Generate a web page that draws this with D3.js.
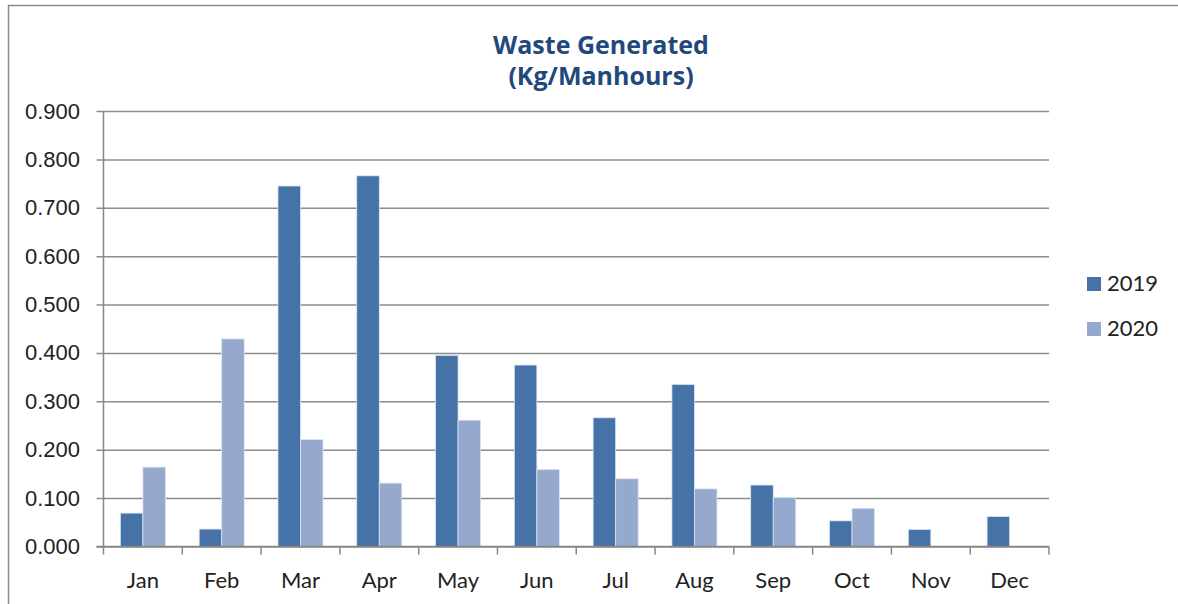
<!DOCTYPE html>
<html>
<head>
<meta charset="utf-8">
<script src="https://cdn.jsdelivr.net/npm/d3@7"></script>
<style>
  body { margin: 0; background: #fff; }
  svg { display: block; font-family: Lato, "Noto Sans", sans-serif; }
</style>
</head>
<body>
<svg id="chart" width="1178" height="604"></svg>
<script>
// chart data
const months = ["Jan", "Feb", "Mar", "Apr", "May", "Jun", "Jul", "Aug", "Sep", "Oct", "Nov", "Dec"];
const series = ["2019", "2020"];
const values2019 = [0.069, 0.036, 0.745, 0.766, 0.395, 0.375, 0.266, 0.335, 0.127, 0.053, 0.035, 0.062];
const values2020 = [0.164, 0.429, 0.221, 0.131, 0.261, 0.159, 0.140, 0.119, 0.101, 0.079, 0, 0];
const yTicks = [0, 0.1, 0.2, 0.3, 0.4, 0.5, 0.6, 0.7, 0.8, 0.9];
const colors = ["#4572A7", "#95A9CF"];

const svg = d3.select("#chart");

// plot area
const plotL = 103.5, plotR = 1049, plotT = 111, plotB = 546.5;

// outer frame
svg.append("rect")
  .attr("x", 8.5).attr("y", 5.5)
  .attr("width", 1180).attr("height", 620)
  .attr("fill", "none")
  .attr("stroke", "#8a8a8a")
  .attr("stroke-width", 1.5);

// title
const title = svg.append("text")
  .attr("text-anchor", "middle")
  .attr("fill", "#1F497D")
  .attr("font-family", "'Open Sans', sans-serif")
  .attr("font-weight", "bold")
  .attr("font-size", 25);
title.append("tspan").attr("x", 601).attr("y", 54).text("Waste Generated");
title.append("tspan").attr("x", 601).attr("y", 85).text("(Kg/Manhours)");

const x = d3.scaleBand()
  .domain(months)
  .range([plotL, plotR])
  .paddingInner(1.5 / 3.5)
  .paddingOuter(0.75 / 3.5);

const xs = d3.scaleBand()
  .domain(series)
  .range([0, x.bandwidth()]);

const y = d3.scaleLinear()
  .domain([0, 0.9])
  .range([plotB, plotT]);

// gridlines + y labels
const yAxis = d3.axisLeft(y)
  .tickValues(yTicks)
  .tickSize(-(plotR - plotL))
  .tickSizeOuter(0)
  .tickPadding(23.5)
  .tickFormat(d3.format(".3f"));

const gy = svg.append("g")
  .attr("transform", `translate(${plotL},0)`)
  .call(yAxis);
gy.select(".domain").remove();
gy.selectAll(".tick line")
  .attr("x1", -7)
  .attr("stroke", "#8c8c8c")
  .attr("stroke-width", 1.5);
gy.selectAll(".tick text")
  .attr("font-size", 22)
  .attr("fill", "#222");

// vertical axis line
svg.append("line")
  .attr("x1", plotL).attr("x2", plotL)
  .attr("y1", plotT).attr("y2", plotB)
  .attr("stroke", "#868686")
  .attr("stroke-width", 1.5);

// bars
const data = months.map((m, i) => ({ month: m, vals: [values2019[i], values2020[i]] }));

const groups = svg.append("g").selectAll("g")
  .data(data)
  .join("g")
  .attr("transform", d => `translate(${x(d.month)},0)`);

groups.selectAll("rect")
  .data(d => d.vals.map((v, j) => ({ key: series[j], v: v, j: j })).filter(e => e.v > 0))
  .join("rect")
  .attr("x", d => xs(d.key))
  .attr("y", d => y(d.v))
  .attr("width", xs.bandwidth())
  .attr("height", d => plotB - y(d.v))
  .attr("fill", d => colors[d.j])
  .attr("stroke", "#dbe3ef")
  .attr("stroke-width", 0.8);

// x axis
const xAxisScale = d3.scaleLinear().domain([0, months.length]).range([plotL, plotR]);
const gx = svg.append("g")
  .attr("transform", `translate(0,${plotB})`);
gx.append("line")
  .attr("x1", plotL - 7).attr("x2", plotR)
  .attr("stroke", "#868686")
  .attr("stroke-width", 1.5);
gx.selectAll("line.tk")
  .data(d3.range(months.length + 1))
  .join("line")
  .attr("class", "tk")
  .attr("x1", d => xAxisScale(d)).attr("x2", d => xAxisScale(d))
  .attr("y1", 0).attr("y2", 8)
  .attr("stroke", "#868686")
  .attr("stroke-width", 1.5);
gx.selectAll("text")
  .data(months)
  .join("text")
  .attr("x", d => x(d) + x.bandwidth() / 2)
  .attr("y", 41)
  .attr("text-anchor", "middle")
  .attr("font-size", 22)
  .attr("fill", "#222")
  .text(d => d);

// legend
const legend = svg.append("g")
  .attr("transform", "translate(1087,277)");
const li = legend.selectAll("g")
  .data(series)
  .join("g")
  .attr("transform", (d, i) => `translate(0,${i * 45})`);
li.append("rect")
  .attr("width", 14).attr("height", 14)
  .attr("fill", (d, i) => colors[i]);
li.append("text")
  .attr("x", 20).attr("y", 14)
  .attr("font-size", 22)
  .attr("fill", "#222")
  .text(d => d);
</script>
</body>
</html>
